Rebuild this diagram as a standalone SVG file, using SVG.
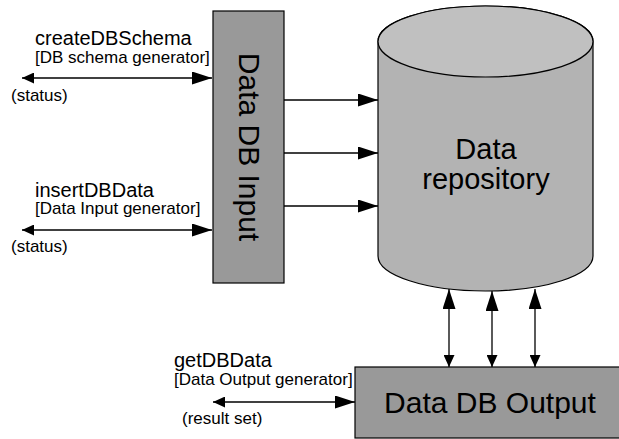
<svg xmlns="http://www.w3.org/2000/svg" width="619" height="439" viewBox="0 0 619 439">
  <style>
    text { font-family: "Liberation Sans", Arial, sans-serif; fill: #000; }
    .title { font-size: 20px; }
    .small { font-size: 17px; }
    .big { font-size: 30px; }
    .mid { font-size: 29px; }
    .box { fill: #999999; stroke: #000; stroke-width: 1.2; }
    .conn { stroke: #000; stroke-width: 1.3; fill: none; }
    .dbl { marker-start: url(#headSmall); marker-end: url(#headLarge); }
    .one { marker-end: url(#headLarge); }
  </style>
  <defs>
    <marker id="headLarge" markerUnits="userSpaceOnUse" markerWidth="20" markerHeight="13" refX="20" refY="6.5" orient="auto-start-reverse">
      <path d="M0,0 L20,6.5 L0,13 z" fill="#000"/>
    </marker>
    <marker id="headSmall" markerUnits="userSpaceOnUse" markerWidth="12" markerHeight="11" refX="12" refY="5.5" orient="auto-start-reverse">
      <path d="M0,0 L12,5.5 L0,11 z" fill="#000"/>
    </marker>
  </defs>
  <rect width="619" height="439" fill="#fff"/>

  <!-- storage cylinder -->
  <g id="repository">
    <path d="M378,41.5 L378,256 A107.5,35 0 0 0 593,256 L593,41.5 A107.5,35.5 0 0 0 378,41.5 z" fill="#b3b3b3" stroke="#000" stroke-width="1.2"/>
    <ellipse cx="485.5" cy="41.5" rx="107.5" ry="35.5" fill="#c0c0c0" stroke="#000" stroke-width="1.2"/>
    <text class="mid" x="486" y="159" text-anchor="middle">Data</text>
    <text class="mid" x="486" y="189" text-anchor="middle">repository</text>
  </g>

  <!-- input block, label runs top to bottom -->
  <g id="input">
    <rect class="box" x="213" y="11" width="71" height="272"/>
    <text class="big" transform="translate(239,147) rotate(90)" text-anchor="middle">Data DB Input</text>
  </g>

  <!-- output block -->
  <g id="output">
    <rect class="box" x="355" y="367" width="270" height="71"/>
    <text class="big" x="490" y="413" text-anchor="middle">Data DB Output</text>
  </g>

  <!-- interface labels -->
  <g id="createSchema">
    <text class="title" x="35" y="45">createDBSchema</text>
    <text class="small" x="35" y="63">[DB schema generator]</text>
    <text class="small" x="11" y="101">(status)</text>
  </g>
  <g id="insertData">
    <text class="title" x="35" y="197">insertDBData</text>
    <text class="small" x="35" y="214">[Data Input generator]</text>
    <text class="small" x="11" y="252">(status)</text>
  </g>
  <g id="getData">
    <text class="title" x="174" y="367">getDBData</text>
    <text class="small" x="174" y="385">[Data Output generator]</text>
    <text class="small" x="182" y="424">(result set)</text>
  </g>

  <g id="connectors">
    <path class="conn dbl" d="M22,78 L212,78"/>
    <path class="conn dbl" d="M22,230 L212,230"/>
    <path class="conn dbl" d="M213,402 L355,402"/>
    <path class="conn one" d="M284,100 L378,100"/>
    <path class="conn one" d="M284,153 L378,153"/>
    <path class="conn one" d="M284,206 L378,206"/>
    <path class="conn dbl" d="M449,367 L449,289"/>
    <path class="conn dbl" d="M492,367 L492,291"/>
    <path class="conn dbl" d="M535,367 L535,289"/>
  </g>
</svg>
